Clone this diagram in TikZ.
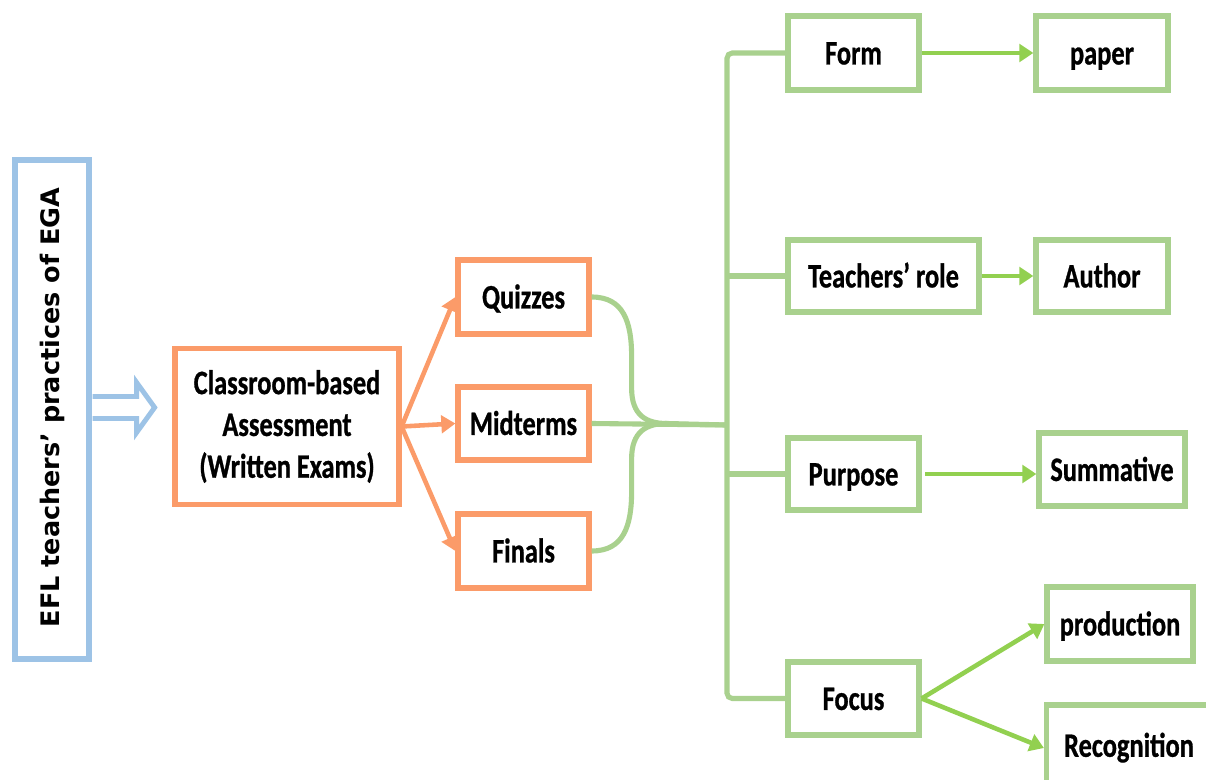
\documentclass[tikz,border=0pt]{standalone}
\usepackage{fontspec}
\setmainfont{Carlito}[FakeStretch=0.77, BoldFeatures={FakeBold=0.8}]
\newfontfamily\egafont{DejaVu Sans}
\usetikzlibrary{arrows.meta,calc}

\definecolor{orangeC}{RGB}{251,155,105}
\definecolor{greenB}{RGB}{169,209,142}
\definecolor{greenA}{RGB}{146,208,80}
\definecolor{blueC}{RGB}{157,195,230}

\begin{document}
\begin{tikzpicture}[x=0.02cm,y=-0.02cm,
  box/.style={draw, line width=3pt, fill=white, inner sep=0pt, align=center,
    font=\bfseries\fontsize{19.5}{23.8}\selectfont},
  oneline/.style={text height=16pt, text depth=3pt},
  obox/.style={box, draw=orangeC},
  gbox/.style={box, oneline, draw=greenB},
  oarrow/.style={draw=orangeC, line width=2.6pt, -{Triangle[length=8pt,width=10pt]}},
  garrow/.style={draw=greenA, line width=2.6pt, -{Triangle[length=8pt,width=10pt]}},
  gline/.style={draw=greenB, line width=2.9pt},
  hollow/.style={draw=blueC, line width=2.8pt, fill=white, line join=miter}]

\useasboundingbox (0,0) rectangle (1206,780);

% left title box with vertical text
\node[draw=blueC, line width=3pt, minimum width=1.48cm, minimum height=9.98cm, inner sep=0pt] (ega) at (52,409.5) {};
\node[rotate=90, font=\egafont\bfseries\fontsize{14.5}{16}\selectfont] (egatext) at (52,407.5) {EFL teachers’ practices of EGA};

% hollow block arrow
\draw[hollow] ($(ega.east)+(1,-13)$) -- ($(ega.east)+(45,-13)$) -- ($(ega.east)+(45,-27)$)
  -- ($(ega.east)+(63,-2)$) -- ($(ega.east)+(45,23)$) -- ($(ega.east)+(45,9)$) -- ($(ega.east)+(1,9)$);

% assessment boxes
\node[obox, minimum width=4.48cm, minimum height=3.12cm, yshift=-0.05cm] (cls) at (287,424) {Classroom-based\\Assessment\\(Written Exams)};
\node[obox, oneline, minimum width=2.62cm, minimum height=1.48cm] (quiz) at (523.5,297) {Quizzes};
\node[obox, oneline, minimum width=2.62cm, minimum height=1.46cm] (mid) at (523.5,423.5) {Midterms};
\node[obox, oneline, minimum width=2.62cm, minimum height=1.48cm] (fin) at (523.5,551) {Finals};

\draw[oarrow] (cls.east) -- (quiz.west);
\draw[oarrow] (cls.east) -- (mid.west);
\draw[oarrow] (cls.east) -- (fin.west);

% characteristics
\node[gbox, minimum width=2.62cm, minimum height=1.48cm] (form) at (853.5,53) {Form};
\node[gbox, minimum width=2.64cm, minimum height=1.48cm] (paper) at (1102,53) {paper};
\node[gbox, minimum width=3.82cm, minimum height=1.44cm] (trole) at (883.5,276) {Teachers’ role};
\node[gbox, minimum width=2.64cm, minimum height=1.44cm] (author) at (1102,276) {Author};
\node[gbox, minimum width=2.62cm, minimum height=1.44cm] (purpose) at (853.5,474) {Purpose};
\node[gbox, minimum width=2.92cm, minimum height=1.46cm] (summ) at (1112,469.5) {Summative};
\node[gbox, minimum width=2.62cm, minimum height=1.46cm] (focus) at (853.5,698.5) {Focus};
\node[gbox, minimum width=2.92cm, minimum height=1.48cm] (prod) at (1120,624) {production};
\node[gbox, minimum width=3.3cm, minimum height=1.72cm, text height=14pt, text depth=4pt] (recog) at (1129,748) {Recognition};

% brace joining the three exams
\coordinate (sp) at (727,425);
\draw[gline] (quiz.east) .. controls ($(quiz.east)+(32,0)$) and ($(quiz.east)+(40,25)$) .. ($(quiz.east)+(40,60)$)
  -- ($(mid.east)+(40,-35)$) .. controls ($(mid.east)+(40,-8)$) and ($(mid.east)+(55,0)$) .. ($(mid.east)+(75,0)$) -- (sp);
\draw[gline] (fin.east) .. controls ($(fin.east)+(32,0)$) and ($(fin.east)+(40,-25)$) .. ($(fin.east)+(40,-60)$)
  -- ($(mid.east)+(40,35)$) .. controls ($(mid.east)+(40,8)$) and ($(mid.east)+(55,0)$) .. ($(mid.east)+(75,0)$);
\draw[gline] (mid.east) -- (sp);

% spine and branches
\draw[gline, rounded corners=3pt] (form.west) -- (form.west -| sp) -- (focus.west -| sp) -- (focus.west);
\draw[gline] (trole.west -| sp) -- (trole.west);
\draw[gline] (purpose.west -| sp) -- (purpose.west);

% value arrows
\draw[garrow] (form.east) -- (paper.west);
\draw[garrow] (trole.east) -- (author.west);
\draw[garrow, shorten <=2pt] (purpose.east) -- (purpose.east -| summ.west);
\draw[garrow] (focus.east) -- (prod.west);
\draw[garrow] (focus.east) -- (recog.west);
\end{tikzpicture}
\end{document}
